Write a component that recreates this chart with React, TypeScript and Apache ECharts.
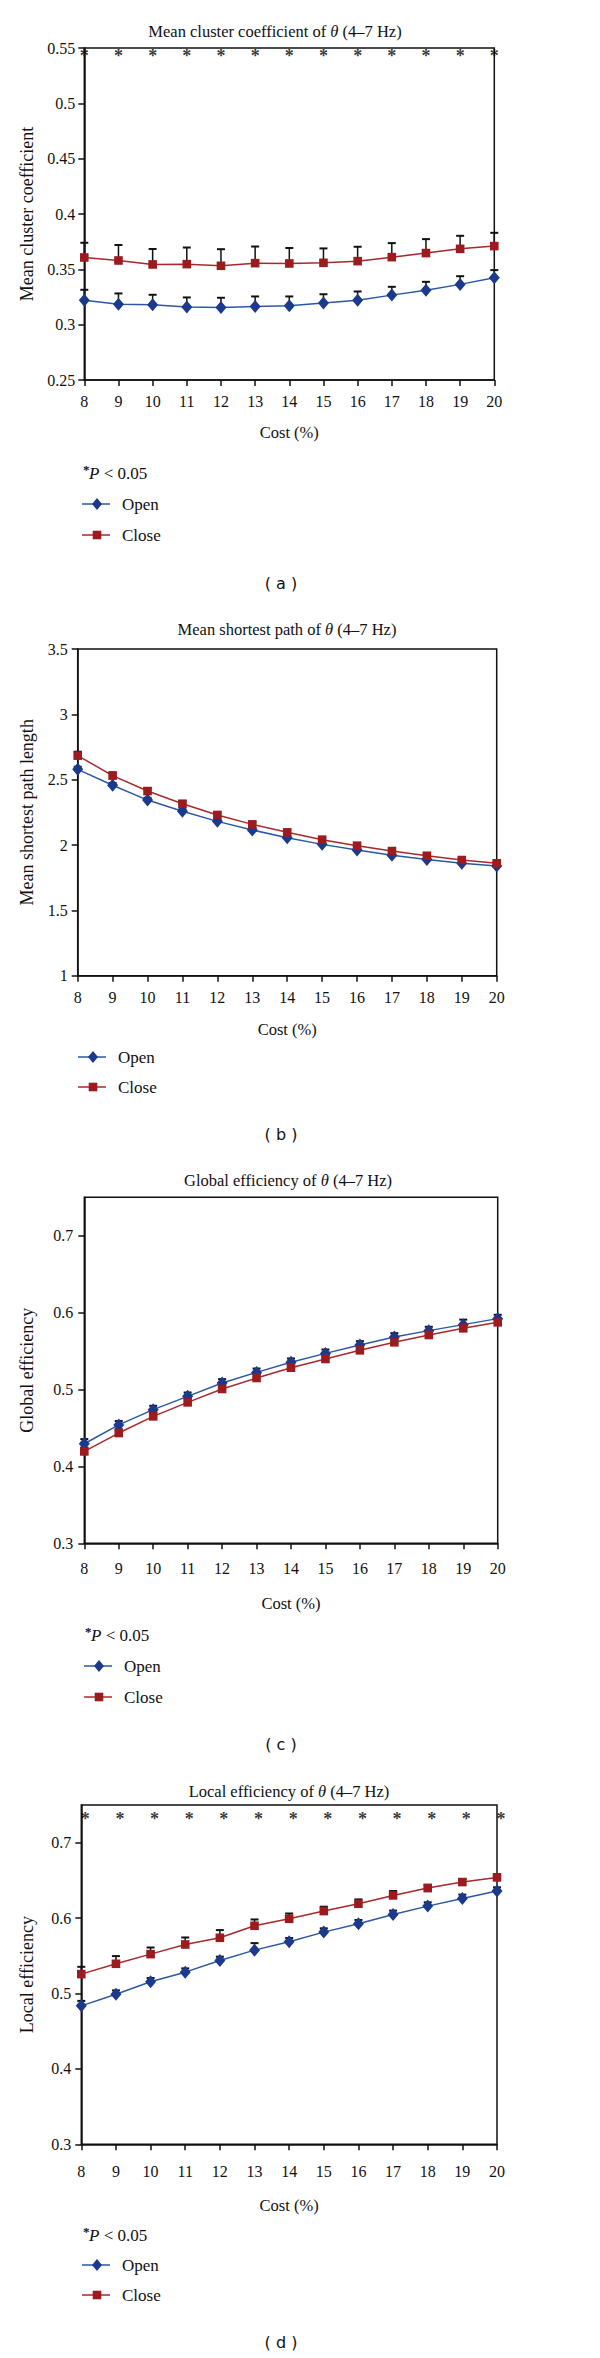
import React, { useEffect, useRef } from "react";
import * as echarts from "echarts";

// ---------- data ----------
const costs = [8, 9, 10, 11, 12, 13, 14, 15, 16, 17, 18, 19, 20];

const clusterOpen = [0.322, 0.3185, 0.318, 0.316, 0.3156, 0.3165, 0.317, 0.3195, 0.322, 0.3267, 0.3312, 0.3364, 0.3423];
const clusterOpenErr = [0.0095, 0.0097, 0.009, 0.0086, 0.0087, 0.009, 0.0085, 0.008, 0.008, 0.0075, 0.0075, 0.0074, 0.007];
const clusterClose = [0.3607, 0.358, 0.3544, 0.3547, 0.3532, 0.3556, 0.3553, 0.3559, 0.3574, 0.361, 0.3647, 0.3685, 0.371];
const clusterCloseErr = [0.0133, 0.014, 0.014, 0.015, 0.015, 0.015, 0.014, 0.013, 0.013, 0.0127, 0.0126, 0.0118, 0.012];
const clusterTicks = [0.25, 0.3, 0.35, 0.4, 0.45, 0.5, 0.55];
const clusterSigCosts = [8, 9, 10, 11, 12, 13, 14, 15, 16, 17, 18, 19, 20];
const clusterSigLevel = 0.5425;

const pathOpen = [2.579, 2.457, 2.344, 2.258, 2.181, 2.115, 2.056, 2.005, 1.962, 1.921, 1.89, 1.86, 1.839];
const pathOpenErr = [0.02, 0.018, 0.017, 0.016, 0.015, 0.014, 0.013, 0.012, 0.012, 0.011, 0.011, 0.01, 0.01];
const pathClose = [2.684, 2.531, 2.413, 2.316, 2.23, 2.158, 2.097, 2.041, 1.995, 1.954, 1.918, 1.885, 1.86];
const pathCloseErr = [0.03, 0.025, 0.022, 0.02, 0.018, 0.017, 0.016, 0.015, 0.014, 0.013, 0.012, 0.012, 0.011];
const pathTicks = [1, 1.5, 2, 2.5, 3, 3.5];

const globalOpen = [0.4295, 0.454, 0.4738, 0.4911, 0.5085, 0.5223, 0.5354, 0.547, 0.5579, 0.5683, 0.5766, 0.5844, 0.5922];
const globalOpenErr = [0.006, 0.005, 0.005, 0.005, 0.005, 0.005, 0.005, 0.005, 0.005, 0.005, 0.005, 0.0065, 0.005];
const globalClose = [0.4195, 0.4434, 0.4651, 0.4833, 0.5007, 0.515, 0.5284, 0.5397, 0.551, 0.5614, 0.5709, 0.5796, 0.5874];
const globalCloseErr = [0.005, 0.005, 0.005, 0.005, 0.005, 0.005, 0.005, 0.005, 0.005, 0.005, 0.005, 0.005, 0.005];
const efficiencyTicks = [0.3, 0.4, 0.5, 0.6, 0.7];

const localOpen = [0.4836, 0.4991, 0.5155, 0.5283, 0.5438, 0.5575, 0.5686, 0.5814, 0.5925, 0.6049, 0.6159, 0.6261, 0.6358];
const localOpenErr = [0.0066, 0.005, 0.005, 0.005, 0.005, 0.0093, 0.005, 0.005, 0.005, 0.005, 0.005, 0.005, 0.005];
const localClose = [0.5257, 0.5394, 0.5522, 0.565, 0.5739, 0.5898, 0.5991, 0.6093, 0.619, 0.6301, 0.6398, 0.6478, 0.654];
const localCloseErr = [0.0097, 0.0102, 0.0088, 0.0093, 0.0102, 0.0084, 0.007, 0.0058, 0.0058, 0.0058, 0.0044, 0.004, 0.004];
const localSigCosts = [8, 9, 10, 11, 12, 13, 14, 15, 16, 17, 18, 19, 20];
const localSigLevel = 0.7315;

// ---------- styling ----------
const SERIF = "'Liberation Serif', 'Times New Roman', serif";
const SANS = "'DejaVu Sans', sans-serif";
const INK = "#111";
const BLUE_M = "#1b3a8c";
const BLUE_L = "#2b58a3";
const RED_M = "#9b1b1e";
const RED_L = "#a8282b";

type Panel = {
  letter: string;
  title: string;
  titleX: number;
  titleY: number;
  yName: string;
  grid: { left: number; top: number; width: number; height: number };
  yMin: number;
  yMax: number;
  yInterval: number;
  yTicks: number[];
  yLabelMargin: number;
  xLabelMargin: number;
  open: number[];
  openErr: number[];
  close: number[];
  closeErr: number[];
  sigCosts?: number[];
  sigLevel?: number;
  sigDx?: number;
  costY: number;
  pY?: number;
  legendX: number;
  openY: number;
  closeY: number;
  letterY: number;
};

const panels: Panel[] = [
  {
    letter: "a", title: "Mean cluster coefficient of ", titleX: 275, titleY: 31,
    yName: "Mean cluster coefficient",
    grid: { left: 84.3, top: 48, width: 410, height: 332 },
    yMin: 0.25, yMax: 0.55, yInterval: 0.05, yTicks: clusterTicks, yLabelMargin: 9, xLabelMargin: 13,
    open: clusterOpen, openErr: clusterOpenErr, close: clusterClose, closeErr: clusterCloseErr,
    sigCosts: clusterSigCosts, sigLevel: clusterSigLevel, sigDx: 0,
    costY: 432, pY: 473, legendX: 82, openY: 504, closeY: 535, letterY: 583,
  },
  {
    letter: "b", title: "Mean shortest path of ", titleX: 287, titleY: 629,
    yName: "Mean shortest path length",
    grid: { left: 77.7, top: 649, width: 419, height: 326.7 },
    yMin: 1, yMax: 3.5, yInterval: 0.5, yTicks: pathTicks, yLabelMargin: 10, xLabelMargin: 14,
    open: pathOpen, openErr: pathOpenErr, close: pathClose, closeErr: pathCloseErr,
    costY: 1029, legendX: 78, openY: 1057, closeY: 1087, letterY: 1134,
  },
  {
    letter: "c", title: "Global efficiency of ", titleX: 288, titleY: 1180,
    yName: "Global efficiency",
    grid: { left: 84.3, top: 1197.3, width: 413.4, height: 346 },
    yMin: 0.3, yMax: 0.75, yInterval: 0.1, yTicks: efficiencyTicks, yLabelMargin: 11, xLabelMargin: 17,
    open: globalOpen, openErr: globalOpenErr, close: globalClose, closeErr: globalCloseErr,
    costY: 1603, pY: 1635, legendX: 84, openY: 1666, closeY: 1697, letterY: 1744,
  },
  {
    letter: "d", title: "Local efficiency of ", titleX: 289, titleY: 1791,
    yName: "Local efficiency",
    grid: { left: 81.3, top: 1805, width: 415.7, height: 339.3 },
    yMin: 0.3, yMax: 0.75, yInterval: 0.1, yTicks: efficiencyTicks, yLabelMargin: 10, xLabelMargin: 19,
    open: localOpen, openErr: localOpenErr, close: localClose, closeErr: localCloseErr,
    sigCosts: localSigCosts, sigLevel: localSigLevel, sigDx: 4,
    costY: 2205, pY: 2235, legendX: 82, openY: 2265, closeY: 2295, letterY: 2342,
  },
];

function errSeries(idx: number, vals: number[], errs: number[]) {
  return {
    type: "custom",
    name: "err" + idx,
    xAxisIndex: idx,
    yAxisIndex: idx,
    z: 2,
    clip: false,
    silent: true,
    encode: { x: 0, y: 1 },
    data: costs.map((c, i) => [c, vals[i], errs[i]]),
    renderItem: (_params: any, api: any) => {
      const x = api.value(0);
      const y = api.value(1);
      const e = api.value(2);
      const p0 = api.coord([x, y]);
      const p1 = api.coord([x, y + e]);
      return {
        type: "group",
        children: [
          { type: "line", shape: { x1: p0[0], y1: p0[1], x2: p1[0], y2: p1[1] }, style: { stroke: INK, lineWidth: 1.5 } },
          { type: "line", shape: { x1: p1[0] - 4, y1: p1[1], x2: p1[0] + 4, y2: p1[1] }, style: { stroke: INK, lineWidth: 2 } },
        ],
      };
    },
  };
}

function legendGraphics(p: Panel) {
  const x0 = p.legendX;
  const x1 = x0 + 28;
  const cx = x0 + 15;
  const tx = x0 + 40;
  const els: any[] = [
    { type: "line", shape: { x1: x0, y1: p.openY, x2: x1, y2: p.openY }, style: { stroke: BLUE_L, lineWidth: 1.5 } },
    { type: "polygon", shape: { points: [[cx, p.openY - 6], [cx + 5, p.openY], [cx, p.openY + 6], [cx - 5, p.openY]] }, style: { fill: BLUE_M } },
    { type: "text", x: tx, y: p.openY, style: { text: "Open", font: `17px ${SERIF}`, fill: INK, align: "left", verticalAlign: "middle" } },
    { type: "line", shape: { x1: x0, y1: p.closeY, x2: x1, y2: p.closeY }, style: { stroke: RED_L, lineWidth: 1.5 } },
    { type: "rect", shape: { x: cx - 4.3, y: p.closeY - 4.3, width: 8.6, height: 8.6 }, style: { fill: RED_M } },
    { type: "text", x: tx, y: p.closeY, style: { text: "Close", font: `17px ${SERIF}`, fill: INK, align: "left", verticalAlign: "middle" } },
  ];
  if (p.pY !== undefined) {
    els.push({ type: "text", x: x0 + 1, y: p.pY - 4, style: { text: "*", font: `bold 13px ${SERIF}`, fill: INK, align: "left", verticalAlign: "middle" } });
    els.push({
      type: "text", x: x0 + 7, y: p.pY,
      style: {
        text: "{i|P}{n| < 0.05}",
        font: `17px ${SERIF}`,
        fill: INK,
        align: "left",
        verticalAlign: "middle",
        rich: {
          i: { fontFamily: SERIF, fontSize: 17, fontStyle: "italic", fill: INK },
          n: { fontFamily: SERIF, fontSize: 17, fill: INK },
        },
      },
    });
  }
  return els;
}

function buildOption() {
  const grids: any[] = [];
  const xAxes: any[] = [];
  const yAxes: any[] = [];
  const series: any[] = [];
  const graphics: any[] = [];

  panels.forEach((p, idx) => {
    grids.push({ ...p.grid, show: true, borderColor: INK, borderWidth: 1.5, backgroundColor: "transparent", containLabel: false });
    xAxes.push({
      type: "value", gridIndex: idx, min: 8, max: 20, interval: 1,
      axisLine: { show: true, lineStyle: { color: INK, width: 1.5 } },
      axisTick: { show: true, length: 6, lineStyle: { color: INK, width: 1.5 } },
      axisLabel: { color: INK, fontFamily: SERIF, fontSize: 16, margin: p.xLabelMargin },
      splitLine: { show: false },
    });
    yAxes.push({
      type: "value", gridIndex: idx, min: p.yMin, max: p.yMax, interval: p.yInterval,
      axisLine: { show: true, lineStyle: { color: INK, width: 1.5 } },
      axisTick: { show: true, length: 6, lineStyle: { color: INK, width: 1.5 }, customValues: p.yTicks },
      axisLabel: { color: INK, fontFamily: SERIF, fontSize: 16, margin: p.yLabelMargin, customValues: p.yTicks },
      splitLine: { show: false },
    });

    series.push(errSeries(idx, p.open, p.openErr));
    series.push(errSeries(idx, p.close, p.closeErr));
    series.push({
      type: "line", name: "Open", xAxisIndex: idx, yAxisIndex: idx, z: 3,
      data: costs.map((c, i) => [c, p.open[i]]),
      symbol: "diamond", symbolSize: [11, 13], showAllSymbol: true,
      itemStyle: { color: BLUE_M }, lineStyle: { color: BLUE_L, width: 1.5 },
    });
    series.push({
      type: "line", name: "Close", xAxisIndex: idx, yAxisIndex: idx, z: 4,
      data: costs.map((c, i) => [c, p.close[i]]),
      symbol: "rect", symbolSize: 8.6, showAllSymbol: true,
      itemStyle: { color: RED_M }, lineStyle: { color: RED_L, width: 1.5 },
    });
    if (p.sigCosts && p.sigLevel !== undefined) {
      series.push({
        type: "scatter", name: "sig" + idx, xAxisIndex: idx, yAxisIndex: idx, z: 5, silent: true,
        data: p.sigCosts.map((c) => [c, p.sigLevel]),
        symbolSize: 1, itemStyle: { color: "rgba(0,0,0,0)" },
        label: {
          show: true, position: "inside", formatter: "*", fontSize: 18, fontWeight: "bold",
          fontFamily: SERIF, color: "#000", offset: [p.sigDx || 0, 0],
        },
      });
    }

    // title
    graphics.push({
      type: "text", x: p.titleX, y: p.titleY,
      style: {
        text: `{n|${p.title}}{i|θ}{n| (4–7 Hz)}`,
        font: `16.5px ${SERIF}`, fill: INK, align: "center", verticalAlign: "middle",
        rich: {
          n: { fontFamily: SERIF, fontSize: 16.5, fill: INK },
          i: { fontFamily: SERIF, fontSize: 16.5, fontStyle: "italic", fill: INK },
        },
      },
    });
    // y title
    graphics.push({
      type: "text", x: 27, y: p.grid.top + p.grid.height / 2, rotation: Math.PI / 2,
      style: { text: p.yName, font: `18px ${SERIF}`, fill: INK, align: "center", verticalAlign: "middle" },
    });
    // x title
    graphics.push({
      type: "text", x: p.grid.left + p.grid.width / 2, y: p.costY,
      style: { text: "Cost (%)", font: `16.5px ${SERIF}`, fill: INK, align: "center", verticalAlign: "middle" },
    });
    graphics.push(...legendGraphics(p));
    graphics.push({
      type: "text", x: 281, y: p.letterY,
      style: { text: `( ${p.letter} )`, font: `16px ${SANS}`, fill: INK, align: "center", verticalAlign: "middle" },
    });
  });

  return {
    animation: false,
    backgroundColor: "#fff",
    grid: grids,
    xAxis: xAxes,
    yAxis: yAxes,
    series,
    graphic: { elements: graphics },
  };
}

export default function App() {
  const ref = useRef<HTMLDivElement>(null);
  useEffect(() => {
    if (!ref.current) return;
    const chart = echarts.init(ref.current, undefined, { renderer: "svg" });
    chart.setOption(buildOption() as any);
    return () => chart.dispose();
  }, []);
  return <div ref={ref} style={{ position: "absolute", left: 0, top: 0, width: 600, height: 2358, background: "#fff" }} />;
}
